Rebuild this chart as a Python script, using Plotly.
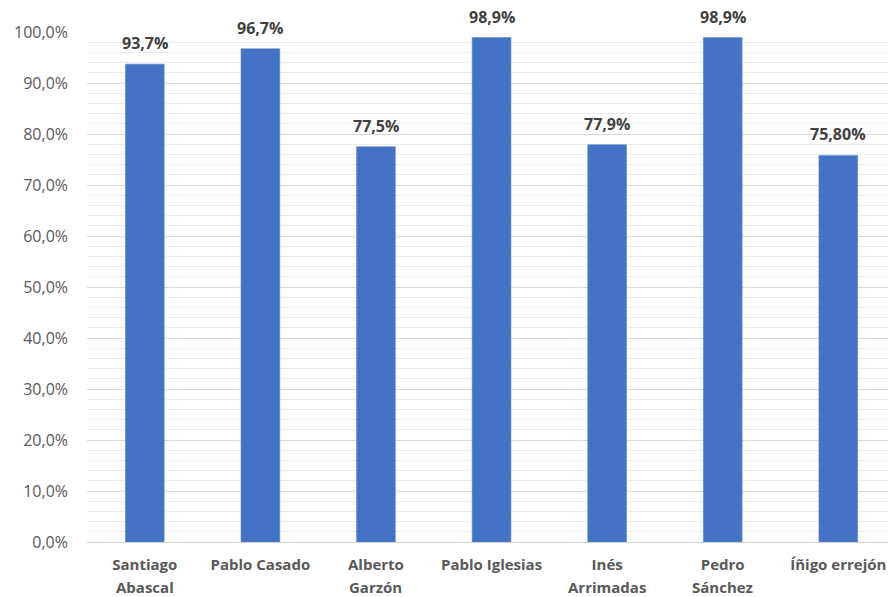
import plotly.graph_objects as go

# Candidates (name split over up to two lines) and share values (%)
name_line1 = ["Santiago", "Pablo Casado", "Alberto", "Pablo Iglesias",
              "Inés", "Pedro", "Íñigo errejón"]
name_line2 = ["Abascal", "", "Garzón", "", "Arrimadas", "Sánchez", ""]
values = [93.7, 96.7, 77.5, 98.9, 77.9, 98.9, 75.80]
value_labels = ["93,7%", "96,7%", "77,5%", "98,9%", "77,9%", "98,9%", "75,80%"]

y_ticks = [0, 10, 20, 30, 40, 50, 60, 70, 80, 90, 100]
y_tick_text = ["0,0%", "10,0%", "20,0%", "30,0%", "40,0%", "50,0%",
               "60,0%", "70,0%", "80,0%", "90,0%", "100,0%"]

FONT = "'Open Sans', sans-serif"
BAR_COLOR = "#4472C4"
LABEL_GREY = "#595959"

x_idx = list(range(len(name_line1)))

fig = go.Figure()
fig.add_trace(go.Bar(
    x=x_idx,
    y=values,
    width=0.335,
    marker=dict(color=BAR_COLOR, line=dict(color="#5b83cc", width=0.6)),
    hoverinfo="skip",
))

# value labels above each bar
for i, (v, lab) in enumerate(zip(values, value_labels)):
    fig.add_annotation(
        x=i, y=v, text=f"<b>{lab}</b>", showarrow=False,
        yanchor="middle", yshift=21,
        font=dict(family=FONT, size=16, color="#404040"),
    )

# second line of the category names, spaced like the axis labels
for i, second in enumerate(name_line2):
    if second:
        fig.add_annotation(
            x=i, y=0, text=f"<b>{second}</b>", showarrow=False,
            yanchor="middle", yshift=-45, borderpad=0,
            font=dict(family=FONT, size=15, color=LABEL_GREY),
        )

fig.update_layout(
    width=888,
    height=597,
    margin=dict(l=87, r=0, t=32, b=55),
    paper_bgcolor="white",
    plot_bgcolor="white",
    showlegend=False,
    font=dict(family=FONT, size=15, color=LABEL_GREY),
    xaxis=dict(
        tickmode="array",
        tickvals=x_idx,
        ticktext=[f"<b>{c}</b>" for c in name_line1],
        range=[-0.5, 6.43],
        showgrid=False,
        zeroline=False,
        showline=False,
        ticks="",
        ticklabelstandoff=12,
        tickfont=dict(family=FONT, size=15, color=LABEL_GREY),
    ),
    yaxis=dict(
        range=[0, 100],
        tickmode="array",
        tickvals=y_ticks,
        ticktext=y_tick_text,
        showgrid=True,
        gridcolor="#d9d9d9",
        gridwidth=1,
        minor=dict(dtick=2, showgrid=True, gridcolor="#ebebeb", gridwidth=1),
        zeroline=True,
        zerolinecolor="#d0d0d0",
        zerolinewidth=1,
        showline=False,
        ticks="",
        ticklabelstandoff=18,
        tickfont=dict(family=FONT, size=16, color=LABEL_GREY),
    ),
)

fig.write_html("out.html")
